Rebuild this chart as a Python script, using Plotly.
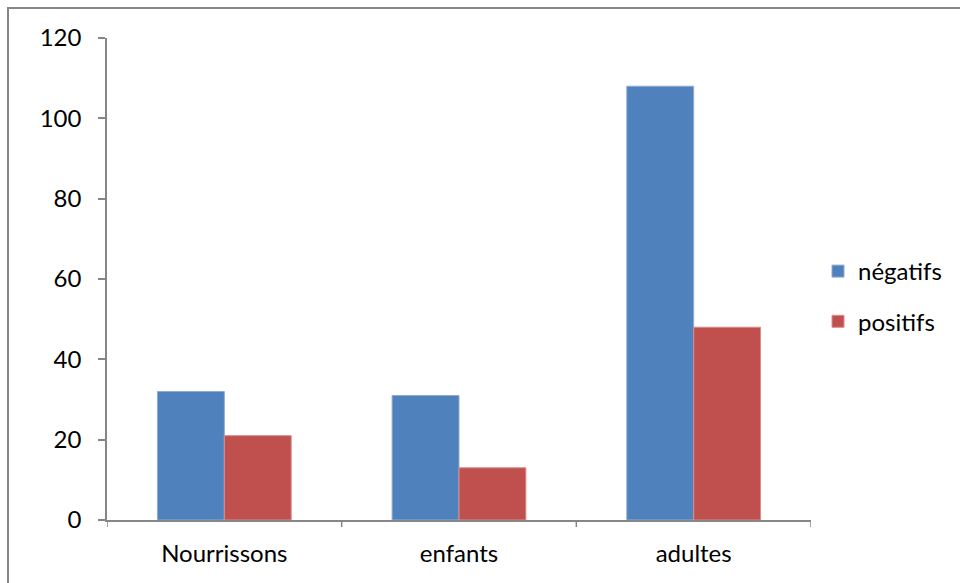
import plotly.graph_objects as go

categories = ["Nourrissons", "enfants", "adultes"]
negatifs = [32, 31, 108]
positifs = [21, 13, 48]
y_ticks = [0, 20, 40, 60, 80, 100, 120]

BLUE = "#4F81BD"
RED = "#C0504D"
AXIS = "#868686"
FONT = "Lato"
FS = 24

W, H = 960, 583
L, R, T, B = 107, 149, 38, 63
pw, ph = W - L - R, H - T - B

fig = go.Figure()
fig.add_trace(go.Bar(name="négatifs", x=categories, y=negatifs, legendgroup="n",
                     marker=dict(color=BLUE, line=dict(color="#8FAAD4", width=1))))
fig.add_trace(go.Bar(name="positifs", x=categories, y=positifs, legendgroup="p",
                     marker=dict(color=RED, line=dict(color="#D98F8D", width=1))))

# outer chart frame, running off the right and bottom edges
def px_x(v):
    return (v - L) / pw

def px_y(v):
    return 1 - (v - T) / ph

fig.add_shape(type="rect", xref="paper", yref="paper",
              x0=px_x(8), x1=px_x(W + 10), y0=px_y(H + 10), y1=px_y(8),
              line=dict(color=AXIS, width=2), fillcolor="rgba(0,0,0,0)", layer="below")

# category boundary ticks on the x axis
for i in range(len(categories) + 1):
    fig.add_shape(type="line", xref="x", yref="paper",
                  x0=i - 0.5, x1=i - 0.5, y0=0, y1=px_y(T + ph + 7),
                  line=dict(color=AXIS, width=1.5))

fig.update_layout(
    width=W, height=H,
    margin=dict(l=L, r=R, t=T, b=B, pad=0, autoexpand=False),
    paper_bgcolor="white", plot_bgcolor="white",
    barmode="group", bargap=0.43, bargroupgap=0,
    font=dict(family=FONT, size=FS, color="#000000"),
    showlegend=True,
    legend=dict(x=px_x(818), y=px_y(249), xanchor="left", yanchor="top",
                font=dict(family=FONT, size=FS), traceorder="grouped",
                tracegroupgap=16, itemwidth=30, bgcolor="rgba(0,0,0,0)"),
    xaxis=dict(showline=True, linecolor=AXIS, linewidth=1.5, ticks="",
               showgrid=False, range=[-0.5, 2.5], ticklabelstandoff=11,
               tickfont=dict(family=FONT, size=FS)),
    yaxis=dict(showline=True, linecolor=AXIS, linewidth=1.5, range=[0, 120],
               tickvals=y_ticks, ticks="outside", ticklen=7, tickcolor=AXIS,
               tickwidth=1.5, showgrid=False, zeroline=False,
               ticklabelstandoff=12, tickfont=dict(family=FONT, size=FS)),
)

fig.write_html("out.html")
